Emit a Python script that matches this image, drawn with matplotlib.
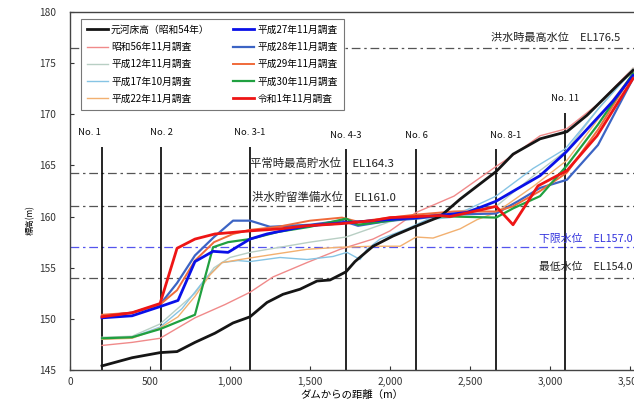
import matplotlib
matplotlib.use("Agg")
import matplotlib.pyplot as plt

plt.rcParams['font.family'] = ['Noto Sans CJK JP', 'DejaVu Sans']

# ---- data ----
s54_x = [200, 388, 563, 669, 781, 906, 1019, 1125, 1231, 1331, 1438, 1544, 1625, 1688, 1725, 1781, 1856, 1894, 2019, 2169, 2313, 2438, 2663, 2769, 2938, 3106, 3231, 3419, 3519]
s54_y = [145.4, 146.2, 146.7, 146.8, 147.7, 148.6, 149.6, 150.2, 151.6, 152.4, 152.9, 153.7, 153.8, 154.3, 154.6, 155.6, 156.6, 157.1, 158.1, 159.1, 160.0, 161.7, 164.4, 166.1, 167.6, 168.3, 169.9, 172.8, 174.3]

s56_x = [200, 388, 563, 781, 969, 1125, 1269, 1481, 1688, 1894, 2000, 2163, 2400, 2663, 2769, 2938, 3106, 3300, 3519]
s56_y = [147.4, 147.7, 148.1, 150.1, 151.4, 152.6, 154.1, 155.5, 156.8, 157.8, 158.6, 160.4, 162.0, 164.9, 166.0, 167.9, 168.6, 171.0, 174.5]

h12_x = [200, 388, 563, 781, 900, 1000, 1125, 1500, 1725, 2000, 2169, 2663, 2938, 3106, 3300, 3519]
h12_y = [148.2, 148.3, 149.5, 152.5, 155.0, 156.0, 156.5, 157.5, 158.0, 159.5, 160.0, 161.0, 164.5, 166.5, 170.5, 174.5]

h17_x = [200, 388, 563, 700, 850, 950, 1050, 1125, 1313, 1481, 1644, 1731, 1813, 1856, 1938, 2106, 2231, 2375, 2663, 2894, 3094, 3300, 3519]
h17_y = [148.0, 148.2, 149.2, 151.0, 154.0, 155.5, 155.7, 155.6, 156.0, 155.8, 156.1, 156.5, 155.8, 156.8, 157.8, 158.8, 159.7, 159.9, 162.0, 164.7, 166.6, 170.5, 174.3]

h22_x = [200, 388, 563, 675, 781, 875, 950, 1063, 1269, 1481, 1688, 1894, 2063, 2163, 2269, 2438, 2544, 2663, 2900, 3106, 3300, 3519]
h22_y = [148.0, 148.1, 149.1, 150.2, 152.2, 154.3, 155.5, 155.8, 156.3, 156.8, 157.0, 157.1, 157.1, 158.0, 157.9, 158.8, 159.7, 160.4, 163.0, 165.5, 169.5, 174.0]

h27_x = [200, 388, 563, 675, 781, 894, 988, 1125, 1231, 1481, 1725, 2169, 2481, 2663, 2794, 2938, 3100, 3394, 3519]
h27_y = [150.1, 150.3, 151.2, 151.8, 155.6, 156.6, 156.5, 157.8, 158.3, 159.1, 159.4, 159.9, 160.4, 161.5, 162.7, 164.0, 166.3, 171.3, 173.8]

h28_x = [200, 388, 563, 669, 781, 900, 1019, 1125, 1250, 1500, 1700, 1800, 2000, 2169, 2400, 2663, 2800, 2938, 3106, 3300, 3519]
h28_y = [150.3, 150.6, 151.4, 153.5, 156.2, 158.0, 159.6, 159.6, 159.0, 159.2, 159.6, 159.1, 159.6, 159.8, 160.2, 160.3, 161.5, 162.8, 163.6, 167.0, 173.5]

h29_x = [200, 388, 563, 669, 781, 900, 1019, 1125, 1300, 1500, 1700, 1800, 2000, 2169, 2400, 2663, 2769, 2938, 3106, 3300, 3519]
h29_y = [150.4, 150.6, 151.4, 152.8, 155.7, 157.5, 158.3, 158.7, 159.0, 159.6, 159.9, 159.5, 159.9, 160.2, 160.5, 160.5, 161.0, 162.5, 164.3, 168.5, 174.0]

h30_x = [200, 388, 563, 781, 894, 988, 1125, 1300, 1500, 1725, 1800, 2000, 2169, 2400, 2663, 2769, 2938, 3106, 3300, 3519]
h30_y = [148.1, 148.2, 149.0, 150.4, 157.0, 157.5, 157.8, 158.5, 159.0, 159.8, 159.2, 159.6, 160.0, 160.0, 159.9, 160.8, 162.0, 165.0, 169.0, 174.0]

r1_x = [200, 388, 563, 669, 781, 906, 1125, 1313, 1481, 1688, 1894, 2000, 2169, 2313, 2375, 2581, 2663, 2769, 2925, 3106, 3294, 3519]
r1_y = [150.2, 150.6, 151.5, 156.9, 157.8, 158.3, 158.6, 158.8, 159.1, 159.3, 159.6, 159.9, 160.0, 160.1, 160.0, 160.7, 161.0, 159.2, 163.0, 164.5, 167.9, 173.5]

series_labels = ['元河床高（昭和54年）', '昭和56年11月調査', '平成12年11月調査', '平成17年10月調査',
                 '平成22年11月調査', '平成27年11月調査', '平成28年11月調査', '平成29年11月調査',
                 '平成30年11月調査', '令和1年11月調査']

sections = ['No. 1', 'No. 2', 'No. 3-1', 'No. 4-3', 'No. 6', 'No. 8-1', 'No. 11']
section_x = [200, 569, 1125, 1725, 2163, 2663, 3094]

levels = [176.5, 164.3, 161.0, 157.0, 154.0]
level_labels = ['洪水時最高水位　EL176.5', '平常時最高貯水位　EL164.3', '洪水貯留準備水位　EL161.0',
                '下限水位　EL157.0', '最低水位　EL154.0']

xticks = [0, 500, 1000, 1500, 2000, 2500, 3000, 3500]
xtick_labels = ['0', '500', '1,000', '1,500', '2,000', '2,500', '3,000', '3,500']
yticks = [145, 150, 155, 160, 165, 170, 175, 180]

# ---- figure ----
W, H = 634, 411
fig = plt.figure(figsize=(W / 100, H / 100), dpi=100)
ax = fig.add_axes([70 / W, 41 / H, (W - 70) / W, (370 - 12) / H])
ax.set_xlim(0, 3525)
ax.set_ylim(145, 180)

# water level lines
lvl_colors = ['#555555', '#555555', '#555555', '#5555ee', '#555555']
for lv, c in zip(levels, lvl_colors):
    ax.axhline(lv, color=c, lw=0.9, dashes=(7, 3, 2, 3), zorder=1)

# level labels
ax.text(3440, 177.0, level_labels[0], fontsize=8, ha='right', va='bottom', color='#222222')
ax.text(1125, 164.7, level_labels[1], fontsize=8.2, ha='left', va='bottom', color='#222222')
ax.text(1135, 161.3, level_labels[2], fontsize=8.2, ha='left', va='bottom', color='#222222')
ax.text(2930, 157.3, level_labels[3], fontsize=7.8, ha='left', va='bottom', color='#3333dd', clip_on=False)
ax.text(2930, 154.6, level_labels[4], fontsize=7.8, ha='left', va='bottom', color='#222222', clip_on=False)

# section lines
sec_top = [166.8, 166.8, 166.8, 166.6, 166.6, 166.6, 170.1]
sec_lab_y = [167.8, 167.8, 167.8, 167.5, 167.5, 167.5, 171.1]
sec_lab_dx = [-80, 0, 0, 0, 0, 60, 0]
for sx, top, name, ly, dx in zip(section_x, sec_top, sections, sec_lab_y, sec_lab_dx):
    ax.vlines(sx, 145, top, color='black', lw=1.2, zorder=2)
    ax.text(sx + dx, ly, name, fontsize=6.8, ha='center', va='bottom', color='#111111')

# series
xs = [s54_x, s56_x, h12_x, h17_x, h22_x, h27_x, h28_x, h29_x, h30_x, r1_x]
ys = [s54_y, s56_y, h12_y, h17_y, h22_y, h27_y, h28_y, h29_y, h30_y, r1_y]
colors = ['#151515', '#f08a8a', '#b8cfc4', '#86c4e4', '#f2b070', '#0a10e8', '#3c64c4', '#f06a3a', '#20a040', '#ee1515']
widths = [2.0, 1.0, 1.0, 1.0, 1.0, 2.0, 1.6, 1.4, 1.6, 2.0]
orders = [5, 3, 3, 3, 3, 5, 4, 4, 4, 6]
for x, y, c, w, lab, z in zip(xs, ys, colors, widths, series_labels, orders):
    ax.plot(x, y, color=c, lw=w, label=lab, zorder=z)

leg = ax.legend(loc='upper left', bbox_to_anchor=(6 / 564, 1 - 2 / 358), ncol=2, fontsize=7,
                frameon=True, fancybox=False, edgecolor='#777777', framealpha=1,
                handlelength=2.2, handletextpad=0.3, columnspacing=2.4, labelspacing=0.75,
                borderpad=0.6)
leg.get_frame().set_linewidth(0.8)
leg.set_zorder(10)

ax.set_xticks(xticks)
ax.set_xticklabels(xtick_labels)
ax.set_yticks(yticks)
ax.tick_params(direction='in', labelsize=7.3, length=3, colors='#333333')
ax.tick_params(axis='y', pad=10)
ax.tick_params(axis='x', pad=5)
ax.spines['right'].set_visible(False)
for s in ['left', 'top', 'bottom']:
    ax.spines[s].set_color('#444444')
    ax.spines[s].set_linewidth(1.0)

ax.set_xlabel('ダムからの距離（m）', fontsize=7.5, labelpad=2)
fig.text(30 / W, 1 - 220 / H, '標高(m)', fontsize=6, rotation=90, ha='center', va='center')

fig.savefig('out.png', dpi=100)
